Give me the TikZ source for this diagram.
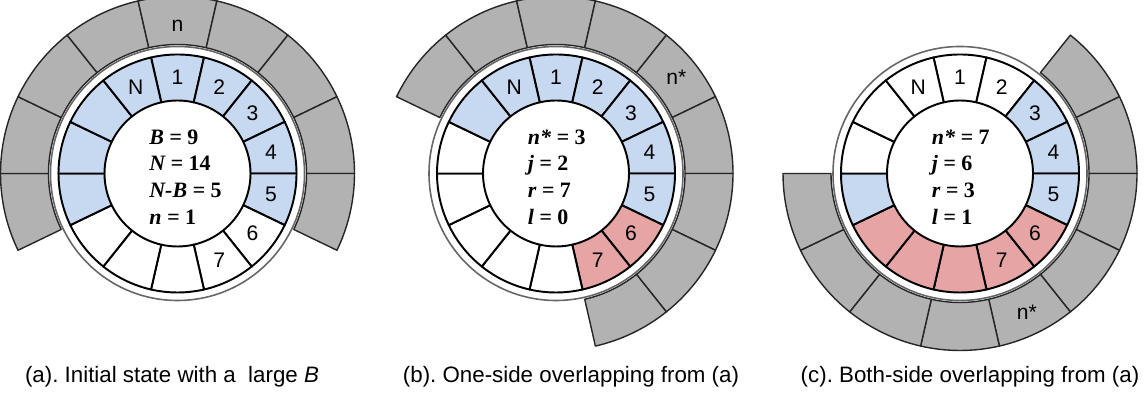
\documentclass[tikz,border=0pt]{standalone}
\usepackage{fontspec}
\setmainfont{Liberation Serif}
\setsansfont{Liberation Sans}
\frenchspacing
\definecolor{cellblue}{RGB}{198,217,240}
\definecolor{cellred}{RGB}{230,164,164}
\definecolor{cellgray}{RGB}{178,178,178}
\tikzset{
  ringcell/.style={draw=black, line width=1.1pt, line join=round},
  windowcell/.style={fill=cellgray, draw=black!85, line width=0.8pt, line join=round},
  gapband/.style={fill=white, draw=black!60, line width=0.9pt},
  celllabel/.style={font=\sffamily\fontsize{12}{14}\selectfont, inner sep=0pt},
  statetext/.style={font=\fontsize{12.5}{15.2}\selectfont\bfseries\itshape, align=left, inner sep=0pt},
  captiontext/.style={font=\sffamily\fontsize{12.7}{15}\selectfont, inner sep=0pt}
}

\begin{document}
\begin{tikzpicture}[x=0.02cm, y=0.02cm]
  \useasboundingbox (0,0) rectangle (1145,411);
  \coordinate (ca) at (177.5,237.5);
  \coordinate (cb) at (556,237.5);
  \coordinate (cc) at (960,237.5);

  % (a) initial state
  \begin{scope}[shift={(ca)}]
    \foreach \i in {-4,...,4} {
      \pgfmathsetmacro\t{90-\i*25.714}
      \filldraw[windowcell] (\t-12.857:129) arc[start angle=\t-12.857, delta angle=25.714, radius=129]
        -- (\t+12.857:177) arc[start angle=\t+12.857, delta angle=-25.714, radius=177] -- cycle;
    }
    \filldraw[gapband] (0,0) circle[radius=127];
    \foreach \k/\c in {1/cellblue,2/cellblue,3/cellblue,4/cellblue,5/cellblue,6/white,7/white,
                       8/white,9/white,10/white,11/cellblue,12/cellblue,13/cellblue,14/cellblue} {
      \pgfmathsetmacro\t{90-(\k-1)*25.714}
      \filldraw[ringcell, fill=\c] (\t-12.857:73) arc[start angle=\t-12.857, delta angle=25.714, radius=73]
        -- (\t+12.857:119) arc[start angle=\t+12.857, delta angle=-25.714, radius=119] -- cycle;
    }
    \foreach \k/\s in {1/1,2/2,3/3,4/4,5/5,6/6,7/7,14/N}
      \node[celllabel] (a\k) at ({90-(\k-1)*25.714}:96) {\s};
    \node[celllabel] (awin) at (90:148) {n};
    \node[statetext, anchor=west] (astate) at (-28.5,-3.5) {B = \upshape 9\\N = \upshape 14\\N-B = \upshape 5\\n = \upshape 1};
  \end{scope}

  % (b) one-side overlapping
  \begin{scope}[shift={(cb)}]
    \foreach \i in {-4,...,4} {
      \pgfmathsetmacro\t{38.571-\i*25.714}
      \filldraw[windowcell] (\t-12.857:129) arc[start angle=\t-12.857, delta angle=25.714, radius=129]
        -- (\t+12.857:177) arc[start angle=\t+12.857, delta angle=-25.714, radius=177] -- cycle;
    }
    \filldraw[gapband] (0,0) circle[radius=127];
    \foreach \k/\c in {1/cellblue,2/cellblue,3/cellblue,4/cellblue,5/cellblue,6/cellred,7/cellred,
                       8/white,9/white,10/white,11/white,12/white,13/cellblue,14/cellblue} {
      \pgfmathsetmacro\t{90-(\k-1)*25.714}
      \filldraw[ringcell, fill=\c] (\t-12.857:73) arc[start angle=\t-12.857, delta angle=25.714, radius=73]
        -- (\t+12.857:119) arc[start angle=\t+12.857, delta angle=-25.714, radius=119] -- cycle;
    }
    \foreach \k/\s in {1/1,2/2,3/3,4/4,5/5,6/6,7/7,14/N}
      \node[celllabel] (b\k) at ({90-(\k-1)*25.714}:96) {\s};
    \node[celllabel] (bwin) at (38.571:154) {n*};
    \node[statetext, anchor=west] (bstate) at (-28.5,-3.5) {n* = \upshape 3\\j = \upshape 2\\r = \upshape 7\\l = \upshape 0};
  \end{scope}

  % (c) both-side overlapping
  \begin{scope}[shift={(cc)}]
    \foreach \i in {-4,...,4} {
      \pgfmathsetmacro\t{-64.286-\i*25.714}
      \filldraw[windowcell] (\t-12.857:129) arc[start angle=\t-12.857, delta angle=25.714, radius=129]
        -- (\t+12.857:177) arc[start angle=\t+12.857, delta angle=-25.714, radius=177] -- cycle;
    }
    \filldraw[gapband] (0,0) circle[radius=127];
    \foreach \k/\c in {1/white,2/white,3/cellblue,4/cellblue,5/cellblue,6/cellred,7/cellred,
                       8/cellred,9/cellred,10/cellred,11/cellblue,12/white,13/white,14/white} {
      \pgfmathsetmacro\t{90-(\k-1)*25.714}
      \filldraw[ringcell, fill=\c] (\t-12.857:73) arc[start angle=\t-12.857, delta angle=25.714, radius=73]
        -- (\t+12.857:119) arc[start angle=\t+12.857, delta angle=-25.714, radius=119] -- cycle;
    }
    \foreach \k/\s in {1/1,2/2,3/3,4/4,5/5,6/6,7/7,14/N}
      \node[celllabel] (c\k) at ({90-(\k-1)*25.714}:96) {\s};
    \node[celllabel] (cwin) at (-64.286:154) {n*};
    \node[statetext, anchor=west] (cstate) at (-28.5,-3.5) {n* = \upshape 7\\j = \upshape 6\\r = \upshape 3\\l = \upshape 1};
  \end{scope}

  % captions
  \node[captiontext] (acap) at (172,34) {(a). Initial state with a \ large \textit{B}};
  \node[captiontext] (bcap) at (571,34) {(b). One-side overlapping from (a)};
  \node[captiontext] (ccap) at (970,34) {(c). Both-side overlapping from (a)};
\end{tikzpicture}
\end{document}
